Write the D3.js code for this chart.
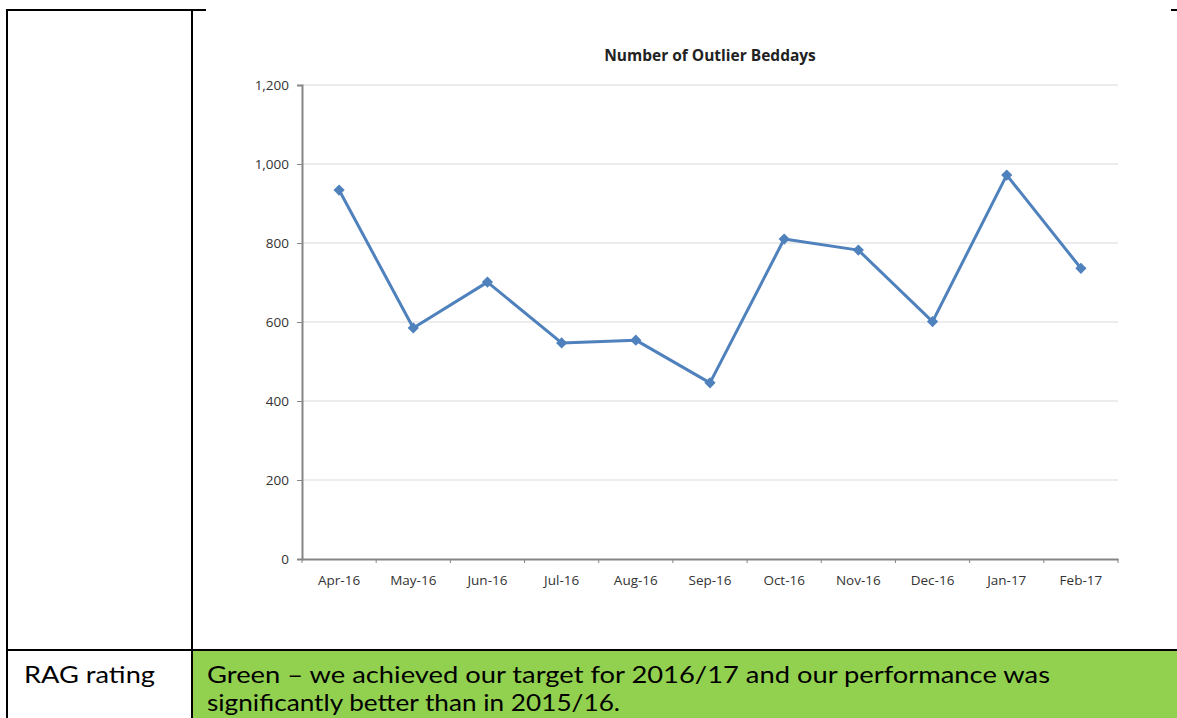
<!DOCTYPE html>
<html>
<head>
  <meta charset='utf-8'>
  <title>Outlier Beddays</title>
  <script src='https://cdn.jsdelivr.net/npm/d3@7'></script>
  <style>
    body { margin: 0; background: #fff; }
  </style>
</head>
<body>
  <script>
    const months = ['Apr-16', 'May-16', 'Jun-16', 'Jul-16', 'Aug-16', 'Sep-16',
      'Oct-16', 'Nov-16', 'Dec-16', 'Jan-17', 'Feb-17'];
    const beddays = [934, 585, 701, 547, 554, 446, 810, 782, 601, 972, 736];
    const yTicks = [0, 200, 400, 600, 800, 1000, 1200];
    const title = 'Number of Outlier Beddays';
    const ragLabel = 'RAG rating';
    const ragText = ['Green \u2013 we achieved our target for 2016/17  and our performance was',
      'significantly better than in 2015/16.'];

    const width = 1177, height = 718;
    const svg = d3.select('body').append('svg')
      .attr('width', width).attr('height', height);

    // table borders
    const tbl = svg.append('g').attr('stroke', '#000').attr('stroke-width', 2);
    tbl.append('line').attr('x1', 7).attr('x2', 206).attr('y1', 10).attr('y2', 10);
    tbl.append('line').attr('x1', 1171).attr('x2', 1177).attr('y1', 10).attr('y2', 10);
    tbl.append('line').attr('x1', 7).attr('x2', 7).attr('y1', 9).attr('y2', height);
    tbl.append('line').attr('x1', 192).attr('x2', 192).attr('y1', 9).attr('y2', height);

    svg.append('rect').attr('x', 193).attr('y', 651).attr('width', width - 193).attr('height', height - 651)
      .attr('fill', '#92d050');
    tbl.append('line').attr('x1', 7).attr('x2', width).attr('y1', 650).attr('y2', 650);

    const ragFont = 'Lato, sans-serif';
    svg.append('text').attr('x', 24).attr('y', 683)
      .attr('font-family', ragFont).attr('font-size', 24).attr('fill', '#000')
      .attr('textLength', 131).attr('lengthAdjust', 'spacingAndGlyphs')
      .text(ragLabel);
    const ragLens = [843, 413];
    svg.append('g').selectAll('text').data(ragText).join('text')
      .attr('x', 207).attr('y', (d, i) => 683 + i * 28)
      .attr('font-family', ragFont).attr('font-size', 24).attr('fill', '#000')
      .attr('textLength', (d, i) => ragLens[i])
      .attr('lengthAdjust', 'spacingAndGlyphs')
      .text(d => d);

    // chart
    const x = d3.scaleBand().domain(months).range([302, 1118]);
    const y = d3.scaleLinear().domain([0, 1200]).range([559, 85]);
    const font = 'Open Sans, sans-serif';

    svg.append('text').attr('x', 710).attr('y', 61).attr('text-anchor', 'middle')
      .attr('font-family', font).attr('font-size', 15.5).attr('font-weight', 'bold').attr('fill', '#222')
      .text(title);

    svg.append('g').selectAll('line').data(yTicks.filter(d => d > 0)).join('line')
      .attr('x1', 302).attr('x2', 1118)
      .attr('y1', d => y(d)).attr('y2', d => y(d))
      .attr('stroke', '#d9d9d9').attr('stroke-width', 1);

    const yAxis = svg.append('g').attr('transform', 'translate(302,0)')
      .call(d3.axisLeft(y).tickValues(yTicks).tickSize(5).tickPadding(8).tickFormat(d3.format(',')));
    const xAxis = svg.append('g').attr('transform', 'translate(0,559)')
      .call(d3.axisBottom(x).tickSize(0).tickPadding(16));
    xAxis.selectAll('.tick').append('line')
      .attr('x1', -x.bandwidth() / 2).attr('x2', -x.bandwidth() / 2)
      .attr('y1', 0).attr('y2', 4).attr('stroke', '#868686');
    xAxis.append('line').attr('x1', 1118).attr('x2', 1118).attr('y1', 0).attr('y2', 4).attr('stroke', '#868686');

    [yAxis, xAxis].forEach(a => {
      a.select('.domain').attr('stroke', '#868686').attr('stroke-width', 2);
      a.selectAll('.tick line').attr('stroke', '#868686');
      a.selectAll('text').attr('font-family', font).attr('font-size', 13.5).attr('fill', '#333');
    });

    const cx = d => x(d) + x.bandwidth() / 2;
    svg.append('path').datum(beddays)
      .attr('fill', 'none').attr('stroke', '#4f81bd').attr('stroke-width', 3)
      .attr('stroke-linejoin', 'round')
      .attr('d', d3.line().x((d, i) => cx(months[i])).y(d => y(d)));

    svg.append('g').selectAll('path').data(beddays).join('path')
      .attr('transform', (d, i) => `translate(${cx(months[i])},${y(d)})`)
      .attr('d', d3.symbol(d3.symbolDiamond2, 80))
      .attr('fill', '#4f81bd');
  </script>
</body>
</html>
